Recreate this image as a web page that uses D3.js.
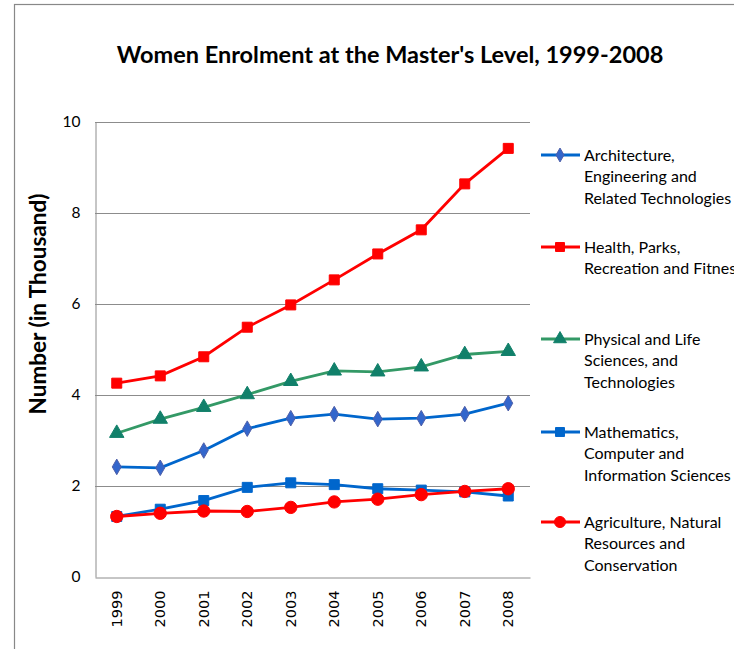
<!DOCTYPE html>
<html lang="en">
<head>
    <meta charset="UTF-8">
    <title>Women Enrolment at the Master's Level</title>
    <style>
        body { margin: 0; background: white; }
        svg { display: block; }
        .title { font-family: Lato, "Open Sans", sans-serif; font-weight: bold; font-size: 23.5px; }
        .ytitle { font-family: Lato, "Open Sans", sans-serif; font-weight: bold; font-size: 22.5px; }
        .tick text { font-family: "DejaVu Sans", sans-serif; font-size: 14.5px; fill: #000; }
        .legend text { font-family: Lato, "Open Sans", sans-serif; font-size: 16px; fill: #000; }
    </style>
    <script src="https://d3js.org/d3.v7.min.js"></script>
</head>
<body>
<div id="chart"></div>
<script>
    // Data (thousands)
    const years = ["1999", "2000", "2001", "2002", "2003", "2004", "2005", "2006", "2007", "2008"];
    const architecture = [2.42, 2.40, 2.78, 3.26, 3.49, 3.58, 3.47, 3.49, 3.58, 3.82];
    const health = [4.26, 4.42, 4.84, 5.49, 5.98, 6.53, 7.10, 7.63, 8.64, 9.42];
    const physical = [3.16, 3.47, 3.73, 4.01, 4.30, 4.53, 4.51, 4.62, 4.89, 4.96];
    const mathematics = [1.33, 1.49, 1.68, 1.97, 2.07, 2.03, 1.94, 1.91, 1.87, 1.78];
    const agriculture = [1.33, 1.40, 1.45, 1.44, 1.53, 1.65, 1.71, 1.81, 1.88, 1.94];
    const yTicks = [0, 2, 4, 6, 8, 10];

    const series = [
        { name: ["Architecture,", "Engineering and", "Related Technologies"], values: architecture,
          line: "#0066CC", fill: "#3366CC", stroke: "#4F5FA8", symbol: d3.symbolDiamond, size: 70 },
        { name: ["Health, Parks,", "Recreation and Fitness"], values: health,
          line: "#FF0000", fill: "#FF0000", stroke: "#FF0000", symbol: d3.symbolSquare, size: 100 },
        { name: ["Physical and Life", "Sciences, and", "Technologies"], values: physical,
          line: "#339966", fill: "#11806A", stroke: "#11806A", symbol: d3.symbolTriangle, size: 90 },
        { name: ["Mathematics,", "Computer and", "Information Sciences"], values: mathematics,
          line: "#0066CC", fill: "#0066CC", stroke: "#0066CC", symbol: d3.symbolSquare, size: 100 },
        { name: ["Agriculture, Natural", "Resources and", "Conservation"], values: agriculture,
          line: "#FF0000", fill: "#FF0000", stroke: "#FF0000", symbol: d3.symbolCircle, size: 120 }
    ];

    const width = 734, height = 649;
    const plot = { left: 95, right: 530, top: 122, bottom: 577 };

    const svg = d3.select("#chart").append("svg")
        .attr("width", width)
        .attr("height", height);

    // chart border (runs off the right and bottom edge)
    svg.append("rect")
        .attr("x", 14.5).attr("y", 4.5)
        .attr("width", 760).attr("height", 700)
        .attr("fill", "none").attr("stroke", "#888").attr("stroke-width", 1.2);

    svg.append("text")
        .attr("class", "title")
        .attr("x", 390).attr("y", 63)
        .attr("text-anchor", "middle")
        .text("Women Enrolment at the Master's Level, 1999-2008");

    const x = d3.scaleBand().domain(years).range([plot.left, plot.right]);
    const y = d3.scaleLinear().domain([0, 10]).range([plot.bottom, plot.top]);

    // gridlines
    svg.append("g")
        .selectAll("line")
        .data(yTicks.filter(t => t > 0))
        .enter().append("line")
        .attr("x1", plot.left).attr("x2", plot.right)
        .attr("y1", d => Math.round(y(d)) + 0.5).attr("y2", d => Math.round(y(d)) + 0.5)
        .attr("stroke", "#8c8c8c").attr("stroke-width", 1);

    // y axis
    const yAxis = svg.append("g")
        .attr("transform", `translate(${plot.left + 0.5},0)`)
        .call(d3.axisLeft(y).tickValues(yTicks).tickSize(0).tickPadding(15));
    yAxis.select(".domain").attr("stroke", "#8c8c8c");
    yAxis.selectAll(".tick text").style("font-family", "Lato, 'Open Sans', sans-serif").style("font-size", "15.5px");

    // x axis
    const xAxis = svg.append("g")
        .attr("transform", `translate(0,${Math.round(y(0)) + 0.5})`)
        .call(d3.axisBottom(x).tickSize(0).tickPadding(0));
    xAxis.select(".domain").attr("stroke", "#8c8c8c");
    xAxis.selectAll(".tick text")
        .attr("transform", "rotate(-90)")
        .attr("text-anchor", "end")
        .attr("x", -13)
        .attr("y", 0)
        .attr("dy", "0.36em");

    svg.append("text")
        .attr("class", "ytitle")
        .attr("transform", "translate(46,304) rotate(-90)")
        .attr("text-anchor", "middle")
        .text("Number (in Thousand)");

    const line = d3.line()
        .x((d, i) => x(years[i]) + x.bandwidth() / 2)
        .y(d => y(d));

    series.forEach(s => {
        const g = svg.append("g");
        g.append("path")
            .datum(s.values)
            .attr("d", line)
            .attr("fill", "none")
            .attr("stroke", s.line)
            .attr("stroke-width", 2.8);
        g.selectAll("path.marker")
            .data(s.values)
            .enter().append("path")
            .attr("class", "marker")
            .attr("d", d3.symbol().type(s.symbol).size(s.size))
            .attr("transform", (d, i) => `translate(${x(years[i]) + x.bandwidth() / 2},${y(d)})`)
            .attr("fill", s.fill)
            .attr("stroke", s.stroke)
            .attr("stroke-width", 1);
    });

    // legend
    const legendY = [155, 247, 339, 432, 522];
    const legend = svg.append("g").attr("class", "legend");
    series.forEach((s, k) => {
        const g = legend.append("g").attr("transform", `translate(0,${legendY[k]})`);
        g.append("line")
            .attr("x1", 541).attr("x2", 580)
            .attr("y1", 0).attr("y2", 0)
            .attr("stroke", s.line).attr("stroke-width", 2.8);
        g.append("path")
            .attr("d", d3.symbol().type(s.symbol).size(s.size * 0.8))
            .attr("transform", "translate(560,0)")
            .attr("fill", s.fill).attr("stroke", s.stroke);
        g.append("text")
            .attr("x", 584).attr("y", 0)
            .selectAll("tspan")
            .data(s.name)
            .enter().append("tspan")
            .attr("x", 584)
            .attr("dy", (d, i) => i === 0 ? "0.35em" : "21.5px")
            .text(d => d);
    });
</script>
</body>
</html>
